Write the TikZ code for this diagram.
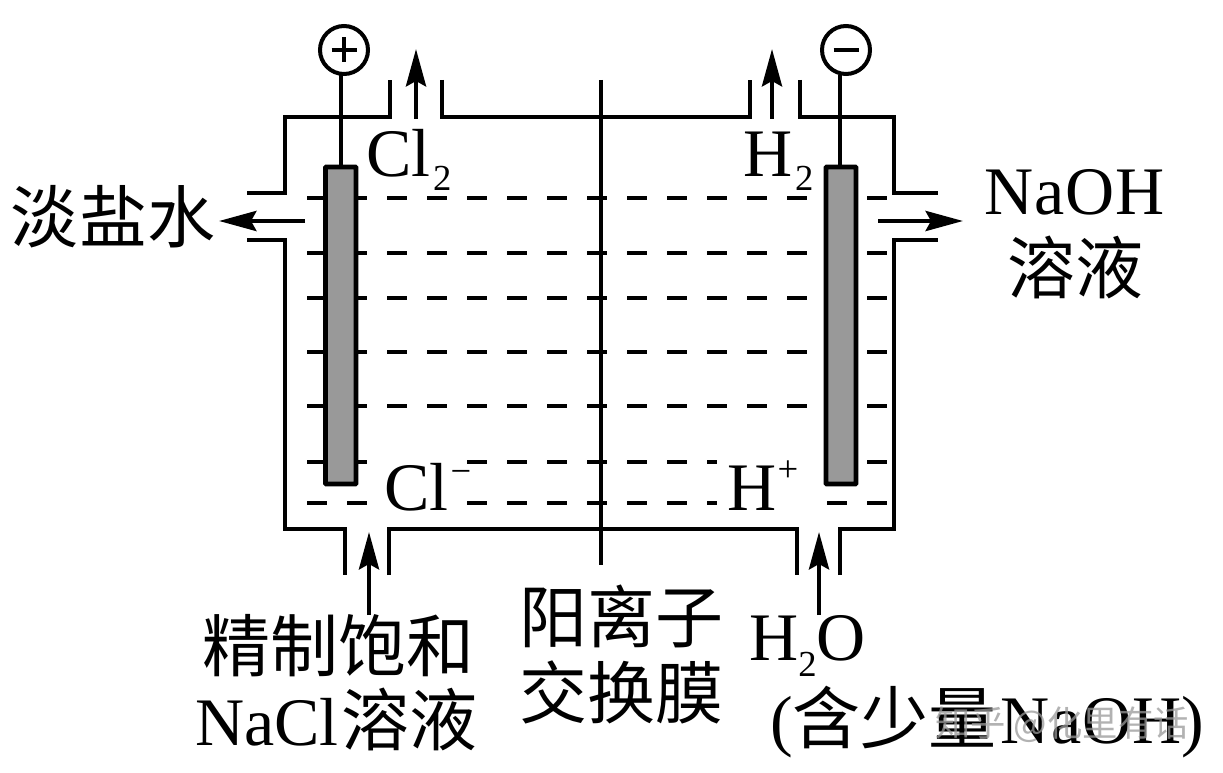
\documentclass[tikz,border=0pt]{standalone}
\usepackage{fontspec}
\setmainfont{Liberation Serif}
\newfontfamily\cjk{Noto Sans CJK SC}
\usetikzlibrary{arrows.meta}
\newcommand{\lowtwo}[1]{\raisebox{#1}{\fontsize{27.5pt}{27.5pt}\selectfont 2}}
\newcommand{\hightxt}[2]{\raisebox{#1}{\fontsize{27.5pt}{27.5pt}\selectfont #2}}
\newcommand{\naoh}{N\kern.8pt a\kern.8pt O\kern.8pt H}
\tikzset{
  x=0.75pt,y=-0.75pt,
  wall/.style={line width=3.3pt,line cap=butt,line join=miter},
  level/.style={line width=3.3pt,dash pattern=on 15pt off 15pt},
  flow/.style={line width=3.3pt,-{Stealth[length=28pt,width=15pt,inset=4pt]}},
  sign/.style={line width=2.4pt},
  electrode/.style={draw,line width=3.4pt,fill=black!40,rounded corners=0.5pt},
  term/.style={circle,draw,line width=3pt,fill=white,minimum size=36pt,inner sep=0pt},
  lab/.style={inner sep=0pt,anchor=base west,font=\fontsize{51pt}{51pt}\selectfont},
  han/.style={inner sep=0pt,anchor=center,font=\cjk\fontsize{51pt}{51pt}\selectfont},
  wmark/.style={inner sep=0pt,anchor=center,opacity=.75,text=black!40,font=\cjk\fontsize{26.5pt}{26.5pt}\selectfont}
}
\begin{document}
\begin{tikzpicture}
\useasboundingbox (0,0) rectangle (1223,773);
\fill[white] (0,0) rectangle (1223,773);
% liquid levels
\foreach \yy in {198,253,298,352,406}{
  \draw[level] (307,\yy) -- (887,\yy);
}
\draw[level] (307,462) -- (367,462);
\draw[level] (467,462) -- (717,462);
\draw[level] (867,462) -- (887,462);
\draw[level] (307,503) -- (367,503);
\draw[level] (467,503) -- (717,503);
\draw[level] (827,503) -- (887,503);
% cell walls
\draw[wall] (247,193) -- (285,193) -- (285,117) -- (390,117) -- (390,80);
\draw[wall] (442,80) -- (442,117) -- (750,117) -- (750,80);
\draw[wall] (800,80) -- (800,117) -- (894,117) -- (894,193) -- (938,193);
\draw[wall] (247,240) -- (285,240) -- (285,529) -- (345,529) -- (345,575);
\draw[wall] (389,575) -- (389,529) -- (797,529) -- (797,575);
\draw[wall] (840,575) -- (840,529) -- (894,529) -- (894,240) -- (938,240);
% membrane
\coordinate (mtop) at (601,80);
\coordinate (mbot) at (601,565);
\draw[wall] (mtop) -- (mbot);
% electrodes and terminals
\node[term] (pos) at (344,50) {};
\node[term] (neg) at (846,50) {};
\draw[electrode] (325.5,167) rectangle (356,484);
\draw[electrode] (826,167) rectangle (856,484);
\coordinate (ptop) at (341,75);
\coordinate (pbot) at (341,166);
\coordinate (ntop) at (840,75);
\coordinate (nbot) at (840,166);
\draw[wall] (ptop) -- (pbot);
\draw[wall] (ntop) -- (nbot);
\draw[sign] (331.5,50) -- (356.5,50) (344,37.5) -- (344,62.5);
\draw[sign] (833.5,50) -- (858.5,50);
% flow arrows
\coordinate (a1) at (416,119); \coordinate (b1) at (416,49);
\coordinate (a2) at (772,119); \coordinate (b2) at (772,49);
\coordinate (a3) at (305,221); \coordinate (b3) at (219,221);
\coordinate (a4) at (878,221); \coordinate (b4) at (963,221);
\coordinate (a5) at (369,615); \coordinate (b5) at (369,532);
\coordinate (a6) at (819,615); \coordinate (b6) at (819,532);
\draw[flow] (a1) -- (b1);
\draw[flow] (a2) -- (b2);
\draw[flow] (a3) -- (b3);
\draw[flow] (a4) -- (b4);
\draw[flow] (a5) -- (b5);
\draw[flow] (a6) -- (b6);
% labels
\node[lab] (cl2) at (366,177) {Cl\kern2pt\lowtwo{-10pt}};
\node[lab] (h2) at (743,177) {H\kern2pt\lowtwo{-10pt}};
\node[lab] (clm) at (384,510) {Cl\kern1.5pt\hightxt{20pt}{−}};
\node[lab] (hp) at (727,510) {H\kern1pt\hightxt{21.5pt}{+}};
\node[han] (salt) at (113,217) {淡盐水};
\node[lab] (naoh) at (984,215) {\naoh};
\node[han] (sol) at (1075,267) {溶液};
\node[han] (jing) at (338,646) {精制饱和};
\node[lab] (nacl) at (195,745) {NaCl\kern2pt{\cjk 溶液}};
\node[han] (yang) at (621,616) {阳离子};
\node[han] (jiao) at (621,692) {交换膜};
\node[lab] (h2o) at (749,660) {H\lowtwo{-12pt}O};
\node[lab] (han2) at (770,743) {({\cjk 含少量}\kern3pt \naoh)};
\node[wmark] (wm) at (1062,725) {知乎 @化里有话};
\end{tikzpicture}
\end{document}
